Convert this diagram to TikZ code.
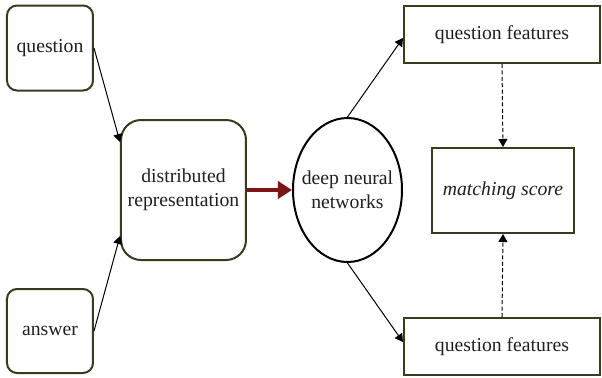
\documentclass[tikz,border=0pt]{standalone}
\usepackage{fontspec}
\setmainfont{Liberation Serif}
\usetikzlibrary{arrows.meta,shapes.geometric}
\definecolor{boxline}{HTML}{3A3A1C}
\definecolor{darkred}{HTML}{7F1416}
\definecolor{txt}{HTML}{231F20}
\begin{document}
\begin{tikzpicture}[x=0.5pt,y=-0.5pt,
  every node/.style={font=\fontsize{9.85}{12}\selectfont, text=txt, align=center, inner sep=0pt},
  rbox/.style={draw=boxline, line width=1pt, rounded corners=5pt, fill=white},
  bigrbox/.style={draw=boxline, line width=1pt, rounded corners=10pt, fill=white},
  sbox/.style={draw=boxline, line width=1pt, fill=white},
  conn/.style={draw=black, line width=0.5pt, -{Triangle[length=4pt,width=4.5pt]}},
  dconn/.style={draw=black, line width=0.5pt, dash pattern=on 2pt off 1.2pt, -{Triangle[length=4pt,width=4.5pt]}},
  bigarrow/.style={draw=darkred, line width=2pt, -{Triangle[length=7pt,width=8.5pt]}}
]
\useasboundingbox (0,0) rectangle (602,377);
\node[rbox, minimum width=43pt, minimum height=42.5pt] (q) at (50,48) {question};
\node[rbox, minimum width=43pt, minimum height=42pt] (a) at (50,331) {answer};
\node[bigrbox, minimum width=62.5pt, minimum height=70pt] (d) at (183.5,190) {distributed\\representation};
\node[ellipse, draw=black, line width=1pt, minimum width=54.5pt, minimum height=72pt, fill=white,
      label={[font=\fontsize{9.85}{12}\selectfont, text=txt, align=center]center:deep neural\\networks}] (n) at (347.5,190) {};
\node[sbox, minimum width=98pt, minimum height=28.5pt] (f1) at (502,34.5) {question features};
\node[sbox, minimum width=98pt, minimum height=28.5pt] (f2) at (502,346.5) {question features};
\node[sbox, minimum width=71pt, minimum height=42.5pt, font=\fontsize{9.85}{12}\selectfont\itshape] (m) at (503,190.5) {matching score};

\draw[conn] (q.east) -- ([yshift=-11.5pt]d.north west);
\draw[conn] (a.east) -- ([yshift=12.5pt]d.south west);
\draw[bigarrow] (d.east) -- (n.west);
\draw[conn] (n.north) -- ([yshift=-1.75pt]f1.west);
\draw[conn] (n.south) -- ([yshift=2.25pt]f2.west);
\draw[dconn] (f1.south) -- (m.north);
\draw[dconn] (f2.north) -- (m.south);
\end{tikzpicture}
\end{document}
